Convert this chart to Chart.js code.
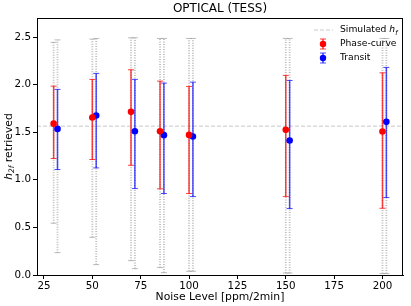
<!DOCTYPE html>
<html>
<head>
<meta charset="utf-8">
<script src="https://cdn.jsdelivr.net/npm/chart.js@4"></script>
<style>
  html, body { margin: 0; padding: 0; background: #fff; }
  #wrap { width: 411px; height: 306px; }
</style>
</head>
<body>
<div id="wrap"><canvas id="noiseChart" width="411" height="306"></canvas></div>
<script>
// values
const phaseX = [30, 50, 70, 85, 100, 150, 200];
const transitX = [32, 52, 72, 87, 102, 152, 202];

const phaseVal = [1.59, 1.655, 1.714, 1.511, 1.472, 1.525, 1.508];
const phaseLo = [1.224, 1.213, 1.153, 0.905, 0.856, 0.824, 0.701];
const phaseHi = [1.984, 2.055, 2.156, 2.037, 1.981, 2.097, 2.124];
const phaseWideLo = [0.544, 0.396, 0.151, 0.078, 0.039, 0.02, 0.015];
const phaseWideHi = [2.444, 2.478, 2.492, 2.485, 2.485, 2.485, 2.485];

const transitVal = [1.535, 1.676, 1.511, 1.469, 1.455, 1.413, 1.609];
const transitLo = [1.108, 1.125, 0.908, 0.856, 0.824, 0.698, 0.814];
const transitHi = [1.95, 2.118, 2.055, 2.016, 2.026, 2.044, 2.181];
const transitWideLo = [0.235, 0.109, 0.067, 0.025, 0.039, 0.02, 0.015];
const transitWideHi = [2.47, 2.485, 2.492, 2.485, 2.485, 2.485, 2.485];

const simulatedHf = 1.564;

const xTicks = [25, 50, 75, 100, 125, 150, 175, 200];
const yTicks = [0, 0.5, 1.0, 1.5, 2.0, 2.5];

const FONT = "'DejaVu Sans', sans-serif";
Chart.defaults.font.family = FONT;
Chart.defaults.color = '#000';

function drawBar(ctx, xs, ys, x, lo, hi, color, width, dash, cap) {
    const px = xs.getPixelForValue(x);
    const p1 = ys.getPixelForValue(lo);
    const p2 = ys.getPixelForValue(hi);
    ctx.save();
    ctx.strokeStyle = color;
    ctx.lineWidth = width;
    ctx.setLineDash(dash);
    ctx.beginPath();
    ctx.moveTo(px, p1);
    ctx.lineTo(px, p2);
    ctx.stroke();
    ctx.setLineDash([]);
    ctx.lineWidth = 1;
    ctx.beginPath();
    ctx.moveTo(px - cap, p1); ctx.lineTo(px + cap, p1);
    ctx.moveTo(px - cap, p2); ctx.lineTo(px + cap, p2);
    ctx.stroke();
    ctx.restore();
}

const errorBars = {
    id: 'errorBars',
    beforeDatasetsDraw(chart) {
        const ctx = chart.ctx;
        const xs = chart.scales.x, ys = chart.scales.y;
        const area = chart.chartArea;
        // simulated value line
        ctx.save();
        ctx.strokeStyle = '#c8c8c8';
        ctx.lineWidth = 1;
        ctx.setLineDash([4, 2]);
        const hy = ys.getPixelForValue(simulatedHf);
        ctx.beginPath();
        ctx.moveTo(area.left, hy);
        ctx.lineTo(area.right, hy);
        ctx.stroke();
        ctx.restore();
        // wide dotted ranges
        for (let i = 0; i < phaseX.length; i++) {
            drawBar(ctx, xs, ys, phaseX[i], phaseWideLo[i], phaseWideHi[i], 'rgba(160,160,160,0.7)', 1.8, [1, 1.5], 3);
            drawBar(ctx, xs, ys, transitX[i], transitWideLo[i], transitWideHi[i], 'rgba(160,160,160,0.7)', 1.8, [1, 1.5], 3);
        }
        for (let i = 0; i < phaseX.length; i++) {
            drawBar(ctx, xs, ys, phaseX[i], phaseLo[i], phaseHi[i], 'rgba(255,0,0,0.75)', 1.5, [], 3);
            drawBar(ctx, xs, ys, transitX[i], transitLo[i], transitHi[i], 'rgba(0,0,255,0.7)', 1.5, [], 3);
        }
    },
    afterDraw(chart) {
        const ctx = chart.ctx;
        const area = chart.chartArea;
        ctx.save();
        // frame
        ctx.strokeStyle = '#000';
        ctx.lineWidth = 1;
        ctx.strokeRect(area.left + 0.5, area.top + 0.5, area.right - area.left - 1, area.bottom - area.top);
        // title
        ctx.fillStyle = '#000';
        ctx.textAlign = 'center';
        ctx.textBaseline = 'middle';
        ctx.font = '12px ' + FONT;
        ctx.fillText('OPTICAL (TESS)', (area.left + area.right) / 2, 9);
        // x label
        ctx.font = '10.8px ' + FONT;
        ctx.fillText('Noise Level [ppm/2min]', (area.left + area.right) / 2, 297);
        // y label
        ctx.save();
        ctx.translate(9, (area.top + area.bottom) / 2);
        ctx.rotate(-Math.PI / 2);
        const f1 = 'italic 10.8px ' + FONT, f2 = 'italic 7.5px ' + FONT, f3 = '10.8px ' + FONT;
        ctx.font = f1; const w1 = ctx.measureText('h').width;
        ctx.font = f2; const w2 = ctx.measureText('2f').width;
        ctx.font = f3; const w3 = ctx.measureText(' retrieved').width;
        let sx = -(w1 + w2 + w3) / 2;
        ctx.textAlign = 'left';
        ctx.font = f1; ctx.fillText('h', sx, 0); sx += w1;
        ctx.font = f2; ctx.fillText('2f', sx, 3); sx += w2;
        ctx.font = f3; ctx.fillText(' retrieved', sx, 0);
        ctx.restore();
        // legend
        ctx.textAlign = 'left';
        const LF = 9.2;
        ctx.font = LF + 'px ' + FONT;
        const lx = 323, tx = 340;
        ctx.strokeStyle = '#c8c8c8';
        ctx.setLineDash([4, 2]);
        ctx.beginPath(); ctx.moveTo(314, 30); ctx.lineTo(333, 30); ctx.stroke();
        ctx.setLineDash([]);
        ctx.fillText('Simulated ', tx, 30);
        const ws = ctx.measureText('Simulated ').width;
        ctx.font = 'italic ' + LF + 'px ' + FONT; ctx.fillText('h', tx + ws, 30);
        const wh = ctx.measureText('h').width;
        ctx.font = 'italic 6.5px ' + FONT; ctx.fillText('f', tx + ws + wh, 33);
        ctx.font = LF + 'px ' + FONT;
        const items = [['Phase-curve', 'rgba(255,0,0,0.75)', 'red', 44], ['Transit', 'rgba(0,0,255,0.7)', 'blue', 58]];
        items.forEach(([label, lc, mc, y]) => {
            ctx.strokeStyle = lc; ctx.lineWidth = 1.5;
            ctx.beginPath(); ctx.moveTo(lx, y - 5); ctx.lineTo(lx, y + 5); ctx.stroke();
            ctx.lineWidth = 1;
            ctx.beginPath();
            ctx.moveTo(lx - 3, y - 5); ctx.lineTo(lx + 3, y - 5);
            ctx.moveTo(lx - 3, y + 5); ctx.lineTo(lx + 3, y + 5);
            ctx.stroke();
            ctx.fillStyle = mc;
            ctx.beginPath(); ctx.arc(lx, y, 3.2, 0, Math.PI * 2); ctx.fill();
            ctx.fillStyle = '#000';
            ctx.fillText(label, tx, y);
        });
        ctx.restore();
    }
};

const ctx = document.getElementById('noiseChart').getContext('2d');
new Chart(ctx, {
    type: 'scatter',
    data: {
        datasets: [{
            label: 'Phase-curve',
            data: phaseX.map((x, i) => ({ x: x, y: phaseVal[i] })),
            backgroundColor: 'red',
            borderWidth: 0,
            pointRadius: 3.3
        }, {
            label: 'Transit',
            data: transitX.map((x, i) => ({ x: x, y: transitVal[i] })),
            backgroundColor: 'blue',
            borderWidth: 0,
            pointRadius: 3.3
        }]
    },
    options: {
        responsive: false,
        animation: false,
        layout: { padding: { top: 18, right: 8, left: 0, bottom: 0 } },
        plugins: { legend: { display: false }, tooltip: { enabled: false } },
        scales: {
            x: {
                type: 'linear',
                min: 21.4,
                max: 210.6,
                afterBuildTicks: s => { s.ticks = xTicks.map(v => ({ value: v })); },
                afterFit: s => { s.height = 31; },
                ticks: { font: { size: 10.3 }, padding: 1, maxRotation: 0 },
                grid: { drawOnChartArea: false, drawTicks: true, tickLength: 4, color: '#000' },
                border: { color: '#000' }
            },
            y: {
                min: 0,
                max: 2.7,
                afterBuildTicks: s => { s.ticks = yTicks.map(v => ({ value: v })); },
                afterFit: s => { s.width = 37; },
                ticks: { font: { size: 10.3 }, padding: 2, callback: v => v.toFixed(1) },
                grid: { drawOnChartArea: false, drawTicks: true, tickLength: 4, color: '#000' },
                border: { color: '#000' }
            }
        }
    },
    plugins: [errorBars]
});
</script>
</body>
</html>
